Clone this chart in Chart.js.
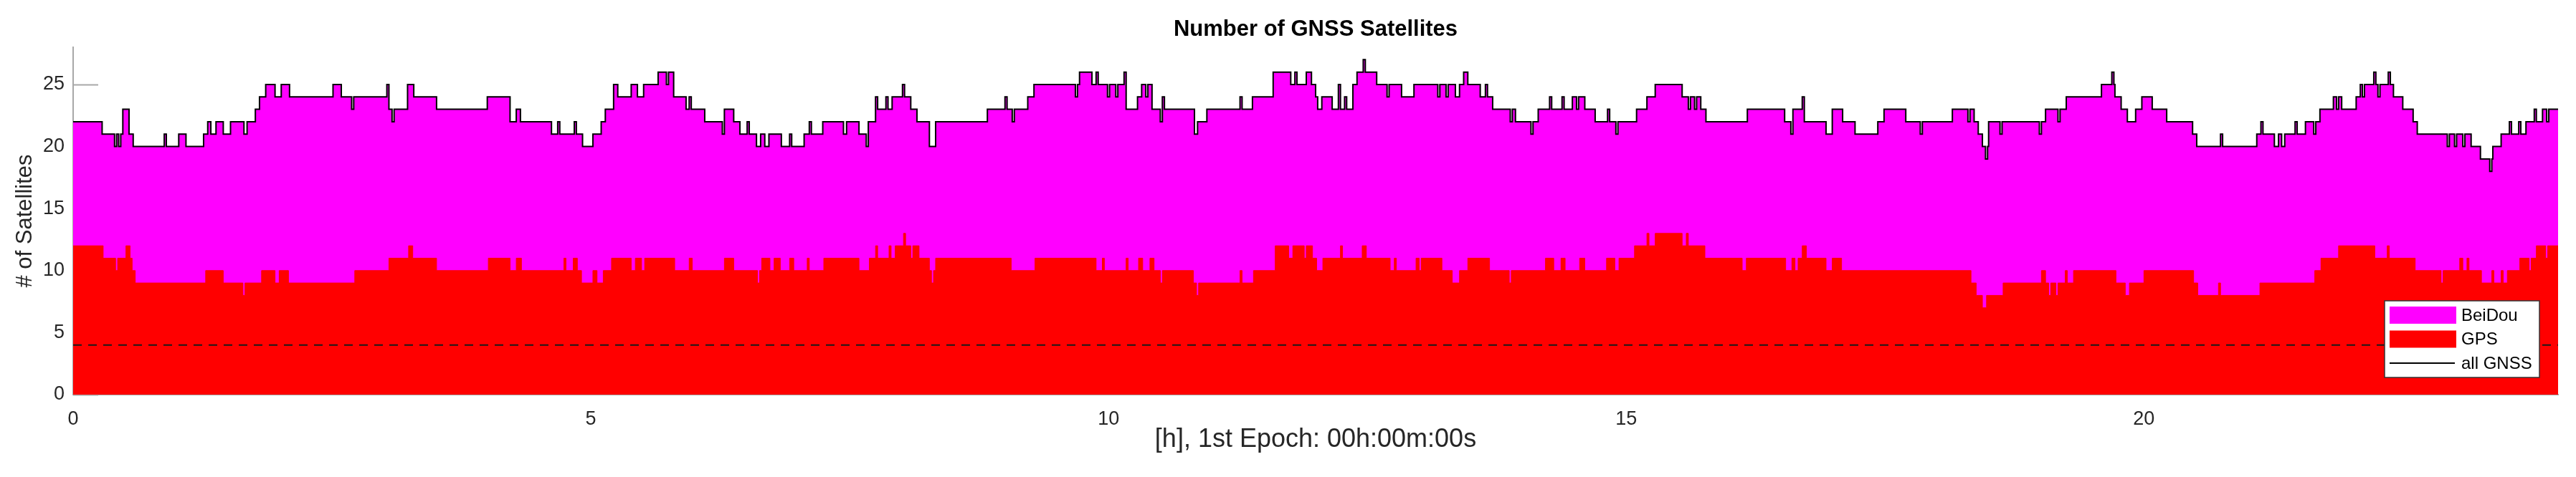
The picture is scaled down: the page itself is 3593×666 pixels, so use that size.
<!DOCTYPE html>
<html>
<head>
<meta charset="utf-8">
<title>Number of GNSS Satellites</title>
<script src="https://cdn.jsdelivr.net/npm/chart.js@4.4.0/dist/chart.umd.min.js"></script>
<style>
  html, body { margin: 0; padding: 0; background: #fff; }
  #wrap { width: 3593px; height: 666px; }
</style>
</head>
<body>
<div id="wrap"><canvas id="satChart" width="3593" height="666"></canvas></div>
<script>
// all GNSS (GPS + BeiDou): hour at which each count starts
const allHours = [
  0, 0.28, 0.40, 0.42, 0.44, 0.46, 0.48, 0.54, 0.58, 0.88, 0.90, 1.02, 1.09, 1.26, 1.30, 1.33, 1.38, 1.45,
  1.52, 1.65, 1.68, 1.76, 1.80, 1.86, 1.95, 2.01, 2.09, 2.51, 2.59, 2.69, 2.71, 3.03, 3.05, 3.08, 3.10,
  3.23, 3.29, 3.51, 4.00, 4.22, 4.28, 4.32, 4.62, 4.68, 4.70, 4.84, 4.86, 4.92, 5.02, 5.10, 5.14, 5.22,
  5.26, 5.39, 5.45, 5.51, 5.65, 5.73, 5.75, 5.80, 5.92, 5.95, 5.97, 6.10, 6.27, 6.29, 6.38, 6.44, 6.51,
  6.53, 6.60, 6.64, 6.68, 6.72, 6.84, 6.92, 6.94, 7.06, 7.11, 7.13, 7.24, 7.44, 7.47, 7.59, 7.66, 7.68,
  7.75, 7.77, 7.85, 7.87, 7.91, 8.01, 8.03, 8.09, 8.15, 8.27, 8.33, 8.83, 9.00, 9.02, 9.07, 9.09, 9.22,
  9.28, 9.68, 9.70, 9.72, 9.84, 9.88, 9.90, 9.99, 10.01, 10.07, 10.09, 10.15, 10.17, 10.28, 10.32, 10.36,
  10.38, 10.42, 10.50, 10.52, 10.54, 10.83, 10.86, 10.95, 11.27, 11.29, 11.39, 11.59, 11.76, 11.80, 11.82,
  11.91, 11.96, 12.00, 12.02, 12.06, 12.16, 12.22, 12.24, 12.28, 12.30, 12.36, 12.40, 12.46, 12.48, 12.59,
  12.69, 12.71, 12.83, 12.95, 13.18, 13.20, 13.26, 13.28, 13.35, 13.39, 13.43, 13.47, 13.59, 13.64, 13.66,
  13.71, 13.88, 13.90, 13.93, 14.08, 14.10, 14.15, 14.26, 14.28, 14.38, 14.40, 14.48, 14.52, 14.54, 14.60,
  14.70, 14.82, 14.84, 14.90, 14.92, 15.10, 15.20, 15.28, 15.54, 15.60, 15.62, 15.66, 15.68, 15.72, 15.77,
  16.17, 16.53, 16.59, 16.61, 16.70, 16.72, 16.93, 16.99, 17.09, 17.21, 17.43, 17.49, 17.70, 17.84, 17.86,
  18.15, 18.30, 18.32, 18.36, 18.40, 18.44, 18.47, 18.49, 18.50, 18.61, 18.63, 18.99, 19.01, 19.05, 19.17,
  19.19, 19.25, 19.59, 19.69, 19.71, 19.72, 19.78, 19.84, 19.92, 19.98, 20.08, 20.22, 20.47, 20.51, 20.74,
  20.76, 21.09, 21.13, 21.15, 21.26, 21.30, 21.33, 21.36, 21.46, 21.48, 21.56, 21.64, 21.66, 21.70, 21.83,
  21.86, 21.88, 21.91, 22.05, 22.09, 22.11, 22.13, 22.22, 22.24, 22.26, 22.28, 22.36, 22.38, 22.41, 22.50,
  22.60, 22.64, 22.93, 22.95, 23.00, 23.02, 23.08, 23.10, 23.16, 23.25, 23.34, 23.36, 23.37, 23.45, 23.53,
  23.55, 23.62, 23.64, 23.69, 23.77, 23.79, 23.85, 23.89, 23.91, 24
];
const allSats = [
  22, 21, 20, 21, 20, 21, 23, 21, 20, 21, 20, 21, 20, 21, 22, 21, 22, 21,
  22, 21, 22, 23, 24, 25, 24, 25, 24, 25, 24, 23, 24, 25, 23, 22, 23,
  25, 24, 23, 24, 22, 23, 22, 21, 22, 21, 22, 21, 20, 21, 22, 23, 25,
  24, 25, 24, 25, 26, 25, 26, 24, 23, 24, 23, 22, 21, 23, 22, 21, 22,
  21, 20, 21, 20, 21, 20, 21, 20, 21, 22, 21, 22, 21, 22, 21, 20, 22,
  24, 23, 24, 23, 24, 25, 24, 23, 22, 20, 22, 23, 24, 23, 22, 23, 24,
  25, 24, 25, 26, 25, 26, 25, 24, 25, 24, 25, 26, 23, 24, 25, 24,
  25, 23, 22, 24, 23, 21, 22, 23, 24, 23, 24, 26, 25, 26, 25,
  26, 25, 24, 23, 24, 23, 25, 23, 24, 23, 25, 26, 27, 26, 25,
  24, 25, 24, 25, 24, 25, 24, 25, 24, 25, 26, 25, 24, 25, 24,
  23, 22, 23, 22, 21, 22, 23, 24, 23, 24, 23, 24, 23, 24, 23,
  22, 23, 22, 21, 22, 23, 24, 25, 24, 23, 24, 23, 24, 23, 22,
  23, 22, 21, 23, 24, 22, 21, 23, 22, 21, 22, 23, 22, 21, 22,
  23, 22, 23, 22, 21, 20, 19, 20, 22, 21, 22, 21, 22, 23, 22,
  23, 24, 25, 26, 25, 24, 23, 22, 23, 24, 23, 22, 21, 20, 21,
  20, 21, 22, 21, 20, 21, 20, 21, 22, 21, 22, 21, 22, 23, 24,
  23, 24, 23, 24, 25, 24, 25, 26, 25, 24, 25, 26, 25, 24, 23,
  22, 21, 20, 21, 20, 21, 20, 21, 20, 19, 18, 19, 20, 21, 22,
  21, 22, 21, 22, 23, 22, 23, 22, 23, 23
];

// GPS only
const gpsHours = [
  0, 0.29, 0.41, 0.43, 0.51, 0.55, 0.57, 0.60, 1.28, 1.45, 1.64, 1.66, 1.82, 1.95, 1.99, 2.08, 2.72,
  3.05, 3.24, 3.28, 3.51, 4.01, 4.22, 4.28, 4.33, 4.74, 4.76, 4.83, 4.87, 4.91, 5.02, 5.06, 5.12, 5.20,
  5.39, 5.43, 5.49, 5.52, 5.81, 5.95, 5.98, 6.29, 6.38, 6.61, 6.63, 6.65, 6.73, 6.77, 6.83, 6.92, 6.96,
  7.09, 7.11, 7.25, 7.59, 7.69, 7.75, 7.77, 7.88, 7.90, 7.94, 8.02, 8.04, 8.09, 8.11, 8.17, 8.27, 8.29,
  8.31, 8.33, 9.06, 9.29, 9.88, 9.94, 9.96, 10.17, 10.19, 10.29, 10.33, 10.40, 10.44, 10.50, 10.52, 10.82,
  10.85, 10.87, 11.27, 11.29, 11.40, 11.61, 11.74, 11.78, 11.89, 11.91, 11.97, 12.01, 12.07, 12.24, 12.26,
  12.45, 12.49, 12.72, 12.76, 12.78, 12.97, 13.00, 13.02, 13.22, 13.32, 13.39, 13.47, 13.68, 13.87, 13.89,
  14.22, 14.30, 14.37, 14.41, 14.55, 14.60, 14.81, 14.89, 14.93, 15.08, 15.20, 15.22, 15.28, 15.54, 15.58,
  15.60, 15.76, 16.12, 16.16, 16.54, 16.60, 16.63, 16.66, 16.70, 16.74, 16.93, 16.99, 17.08, 18.33, 18.38,
  18.44, 18.48, 18.64, 19.01, 19.05, 19.08, 19.10, 19.15, 19.17, 19.24, 19.26, 19.32, 19.73, 19.82, 19.86,
  20.00, 20.48, 20.52, 20.72, 20.74, 21.12, 21.65, 21.71, 21.88, 22.23, 22.35, 22.37, 22.62, 22.87, 22.89,
  23.05, 23.08, 23.12, 23.14, 23.26, 23.36, 23.38, 23.45, 23.47, 23.51, 23.63, 23.72, 23.74, 23.79, 23.88,
  23.90, 24
];
const gpsSats = [
  12, 11, 10, 11, 12, 11, 10, 9, 10, 9, 8, 9, 10, 9, 10, 9, 10,
  11, 12, 11, 10, 11, 10, 11, 10, 11, 10, 11, 10, 9, 10, 9, 10, 11,
  10, 11, 10, 11, 10, 11, 10, 11, 10, 9, 10, 11, 10, 11, 10, 11, 10,
  11, 10, 11, 10, 11, 12, 11, 12, 11, 12, 13, 12, 11, 12, 11, 10, 9,
  10, 11, 10, 11, 10, 11, 10, 11, 10, 11, 10, 11, 10, 9, 10, 9,
  8, 9, 10, 9, 10, 12, 11, 12, 11, 12, 11, 10, 11, 12, 11,
  12, 11, 10, 11, 10, 11, 10, 11, 10, 9, 10, 11, 10, 9, 10,
  11, 10, 11, 10, 11, 10, 11, 10, 11, 12, 13, 12, 13, 12, 13,
  12, 11, 10, 11, 10, 11, 10, 11, 12, 11, 10, 11, 10, 9, 8,
  7, 8, 9, 10, 9, 8, 9, 8, 9, 10, 9, 10, 9, 8, 9,
  10, 9, 8, 9, 8, 9, 10, 11, 12, 11, 12, 11, 10, 9, 10,
  11, 10, 11, 10, 9, 10, 9, 10, 9, 10, 11, 10, 11, 12, 11,
  12, 12
];

const minSatsLevel = 4;   // dashed reference line
const xRange = [0, 24];
const yRange = [0, 28];
const tickStep = 5;

const toPoints = (hours, sats) => hours.map((h, i) => ({ x: h, y: sats[i] }));

const fontFamily = 'Liberation Sans, Arial, sans-serif';
const axisFont = { family: fontFamily, size: 27 };
const tickColor = '#262626';

// MATLAB-style tick marks pointing into the axes, drawn under the areas
const innerTicks = {
  id: 'innerTicks',
  beforeDatasetsDraw(chart) {
    const { ctx, chartArea, scales } = chart;
    ctx.save();
    ctx.strokeStyle = '#a8a8a8';
    ctx.lineWidth = 2;
    scales.y.ticks.forEach(function (t) {
      const y = Math.round(scales.y.getPixelForValue(t.value)) + 0.5;
      ctx.beginPath();
      ctx.moveTo(chartArea.left, y);
      ctx.lineTo(chartArea.left + 35, y);
      ctx.stroke();
    });
    scales.x.ticks.forEach(function (t) {
      const x = Math.round(scales.x.getPixelForValue(t.value)) + 0.5;
      ctx.beginPath();
      ctx.moveTo(x, chartArea.bottom);
      ctx.lineTo(x, chartArea.bottom - 35);
      ctx.stroke();
    });
    ctx.restore();
  }
};

// boxed legend in the lower right corner of the axes
const boxLegend = {
  id: 'boxLegend',
  afterDraw(chart) {
    const { ctx, chartArea } = chart;
    const items = chart.data.datasets.filter(d => d.label);
    const w = 216, h = 107, rowH = 33.5;
    const left = chartArea.right - 26 - w;
    const top = chartArea.bottom - 24 - h;
    ctx.save();
    ctx.fillStyle = '#ffffff';
    ctx.fillRect(left, top, w, h);
    ctx.strokeStyle = '#333333';
    ctx.lineWidth = 1.5;
    ctx.strokeRect(left, top, w, h);
    ctx.font = '24px "Liberation Sans", Arial, sans-serif';
    ctx.textBaseline = 'middle';
    items.forEach(function (d, i) {
      const cy = top + 20 + i * rowH;
      if (d.fill) {
        ctx.fillStyle = d.backgroundColor;
        ctx.fillRect(left + 7, cy - 12, 93, 24);
      } else {
        ctx.strokeStyle = d.borderColor;
        ctx.lineWidth = 2;
        ctx.beginPath();
        ctx.moveTo(left + 7, cy);
        ctx.lineTo(left + 98, cy);
        ctx.stroke();
      }
      ctx.fillStyle = '#000000';
      ctx.fillText(d.label, left + 107, cy + 1);
    });
    ctx.restore();
  }
};

const ctx = document.getElementById('satChart').getContext('2d');
new Chart(ctx, {
  type: 'line',
  data: {
    datasets: [
      {
        label: 'BeiDou',
        data: toPoints(allHours, allSats),
        stepped: 'before',
        fill: 'origin',
        backgroundColor: '#ff00ff',
        borderColor: '#ff00ff',
        borderWidth: 1,
        pointRadius: 0,
        order: 4
      },
      {
        label: 'GPS',
        data: toPoints(gpsHours, gpsSats),
        stepped: 'before',
        fill: 'origin',
        backgroundColor: '#ff0000',
        borderColor: '#ff0000',
        borderWidth: 1,
        pointRadius: 0,
        order: 3
      },
      {
        label: 'all GNSS',
        data: toPoints(allHours, allSats),
        stepped: 'before',
        fill: false,
        borderColor: '#000000',
        borderWidth: 2,
        pointRadius: 0,
        order: 1
      },
      {
        data: [{ x: xRange[0], y: minSatsLevel }, { x: xRange[1], y: minSatsLevel }],
        fill: false,
        borderColor: '#1a1a1a',
        borderWidth: 2,
        borderDash: [12, 9],
        pointRadius: 0,
        order: 2
      }
    ]
  },
  options: {
    responsive: false,
    animation: false,
    layout: { padding: { left: 0, right: 25, top: 0, bottom: 0 } },
    plugins: {
      legend: { display: false },
      tooltip: { enabled: false },
      title: { display: false }
    },
    scales: {
      // top axis only carries the plot title, centred over the axes like MATLAB
      top: {
        type: 'linear',
        position: 'top',
        min: xRange[0],
        max: xRange[1],
        grid: { display: false, drawTicks: false },
        border: { display: false },
        ticks: { display: false },
        title: {
          display: true,
          text: 'Number of GNSS Satellites',
          color: '#000000',
          font: { family: fontFamily, size: 31, weight: 'bold' },
          padding: { top: 23, bottom: 0 }
        },
        afterFit(scale) { scale.height = 66; }
      },
      x: {
        type: 'linear',
        position: 'bottom',
        min: xRange[0],
        max: xRange[1],
        grid: { display: false, drawTicks: false },
        border: { display: true, color: '#a8a8a8', width: 2 },
        ticks: { stepSize: tickStep, includeBounds: false, padding: 18, maxRotation: 0, color: tickColor, font: axisFont },
        title: {
          display: true,
          text: '[h], 1st Epoch: 00h:00m:00s',
          color: tickColor,
          font: { family: fontFamily, size: 36 },
          padding: { top: 0, bottom: 30 }
        },
        afterFit(scale) { scale.height = 115; }
      },
      y: {
        min: yRange[0],
        max: yRange[1],
        grid: { display: false, drawTicks: false },
        border: { display: true, color: '#a8a8a8', width: 2 },
        ticks: { stepSize: tickStep, includeBounds: false, padding: 12, color: tickColor, font: axisFont },
        title: {
          display: true,
          text: '# of Satellites',
          color: tickColor,
          font: { family: fontFamily, size: 31 },
          padding: { top: 17, bottom: 0 }
        },
        afterFit(scale) { scale.width = 102; }
      }
    }
  },
  plugins: [innerTicks, boxLegend]
});
</script>
</body>
</html>
